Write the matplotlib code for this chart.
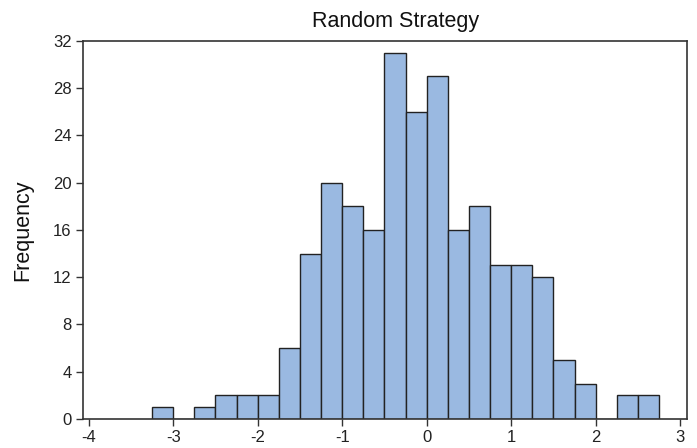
import numpy as np
import matplotlib
matplotlib.use("Agg")
import matplotlib.pyplot as plt

plt.rcParams['font.family'] = ['Liberation Sans', 'DejaVu Sans']

# histogram bins (left edges, width 0.25) and counts
bin_left = np.arange(-3.25, 2.75, 0.25)
counts = [1, 0, 1, 2, 2, 2, 6, 14, 20, 18, 16, 31,
          26, 29, 16, 18, 13, 13, 12, 5, 3, 0, 2, 2]
bin_width = 0.25

xticks = [-4, -3, -2, -1, 0, 1, 2, 3]
yticks = [0, 4, 8, 12, 16, 20, 24, 28, 32]

fig = plt.figure(figsize=(6.97, 4.48), dpi=100)
ax = fig.add_axes([0.1187, 0.0647, 0.867, 0.844])

ax.bar(bin_left, counts, width=bin_width, align='edge',
       color='#9ab9e1', edgecolor='#222222', linewidth=1.0)

ax.set_xlim(-4.07, 3.08)
ax.set_ylim(0, 32)
ax.set_xticks(xticks)
ax.set_xticklabels([str(t) for t in xticks])
ax.set_yticks(yticks)

ax.tick_params(direction='out', length=5, width=1, color='#333333',
               labelsize=12, labelcolor='#222222', pad=3)
for s in ax.spines.values():
    s.set_color('#333333')
    s.set_linewidth(1.2)

ax.set_title('Random Strategy', fontsize=15.5, color='#111111', pad=10, x=0.518)
ax.set_ylabel('Frequency', fontsize=15.5, color='#111111')
ax.yaxis.set_label_coords(-0.082, 0.5)

plt.savefig('out.png', dpi=100)
